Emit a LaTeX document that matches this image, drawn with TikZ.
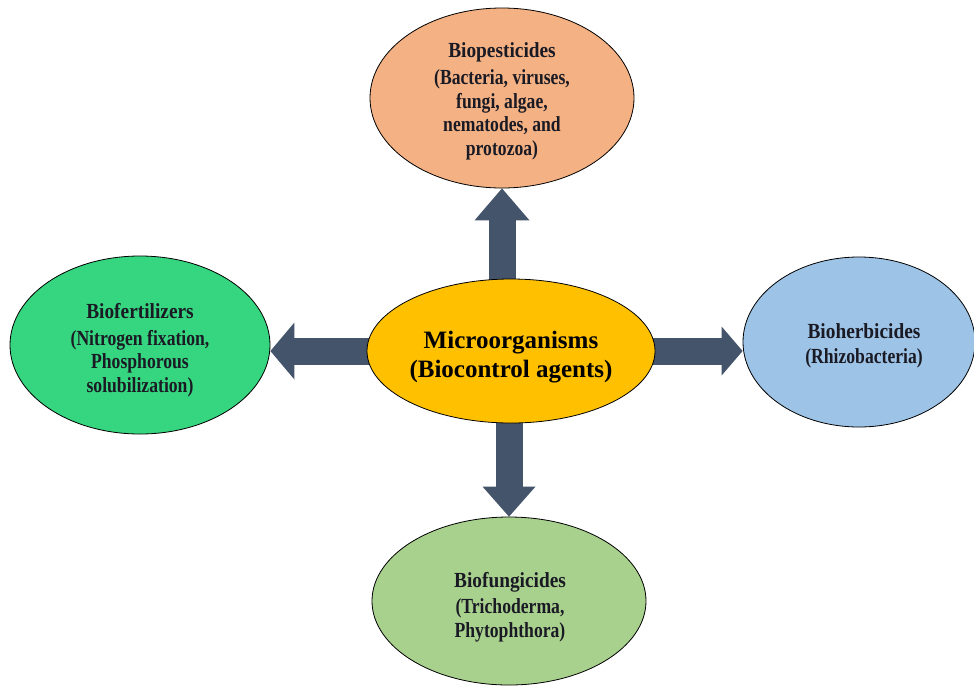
\documentclass[tikz,border=0pt]{standalone}
\usepackage{fontspec}
\setmainfont{Liberation Serif}
\newfontfamily\ttlfont[FakeStretch=0.9]{Liberation Serif}
\newfontfamily\subfont[FakeStretch=0.82]{Liberation Serif}
\usetikzlibrary{shapes.geometric,arrows.meta}
\definecolor{cTop}{HTML}{F4B183}
\definecolor{cMid}{HTML}{FFC000}
\definecolor{cLeft}{HTML}{36D580}
\definecolor{cRight}{HTML}{9DC3E6}
\definecolor{cBot}{HTML}{A9D18E}
\definecolor{cArr}{HTML}{44546A}
\definecolor{txtc}{HTML}{1A1A24}
\pgfdeclarelayer{bg}
\pgfdeclarelayer{arr}
\pgfsetlayers{bg,arr,main}
\newcommand\ttl[1]{{\ttlfont\bfseries\fontsize{21.5}{23.5}\selectfont #1}}
\begin{document}
\begin{tikzpicture}[x=1pt,y=-1pt,
  blob/.style={ellipse,draw=black,line width=0.8pt,inner sep=0pt},
  lbl/.style={align=center,inner sep=0pt,text=txtc,font=\subfont\bfseries\fontsize{21.5}{23.5}\selectfont},
  blockarr/.style={draw=cArr,color=cArr,line width=27pt}]
\useasboundingbox (0,0) rectangle (974,686);
\begin{pgfonlayer}{bg}
\fill[white] (0,0) rectangle (974,686);
\end{pgfonlayer}
\node[blob,fill=cTop,minimum width=264pt,minimum height=180pt] (top) at (502,98) {};
\node[blob,fill=cMid,minimum width=288pt,minimum height=144pt] (mid) at (511,351) {};
\node[blob,fill=cLeft,minimum width=260pt,minimum height=178pt] (left) at (140,345) {};
\node[blob,fill=cRight,minimum width=232pt,minimum height=170pt] (right) at (859,342) {};
\node[blob,fill=cBot,minimum width=274pt,minimum height=168pt] (bot) at (509,601) {};
\node[lbl] (topt) at (502,101) {\ttl{Biopesticides}\\[4pt](Bacteria, viruses,\\fungi, algae,\\nematodes, and\\protozoa)};
\node[lbl] (leftt) at (140,350) {\ttl{Biofertilizers}\\[3pt](Nitrogen fixation,\\Phosphorous\\solubilization)};
\node[lbl] (rightt) at (864,346) {\ttl{Bioherbicides}\\[1pt](Rhizobacteria)};
\node[lbl] (bott) at (510,607) {\ttl{Biofungicides}\\[3pt](Trichoderma,\\Phytophthora)};
\node[lbl,text=black,font=\bfseries\fontsize{25}{29}\selectfont] (midt) at (511,357) {Microorganisms\\(Biocontrol agents)};
\begin{pgfonlayer}{arr}
\draw[blockarr,-{Triangle[length=32pt,width=55pt,line width=0pt]}] (mid.center -| top.south) -- (top.south);
\draw[blockarr,-{Triangle[length=24pt,width=57pt,line width=0pt]}] (mid.center) -- (mid.center -| left.east);
\draw[blockarr,-{Triangle[length=21pt,width=49pt,line width=0pt]}] (mid.center) -- (mid.center -| right.west);
\draw[blockarr,-{Triangle[length=30pt,width=53pt,line width=0pt]}] (mid.center -| bot.north) -- (bot.north);
\end{pgfonlayer}
\end{tikzpicture}
\end{document}
